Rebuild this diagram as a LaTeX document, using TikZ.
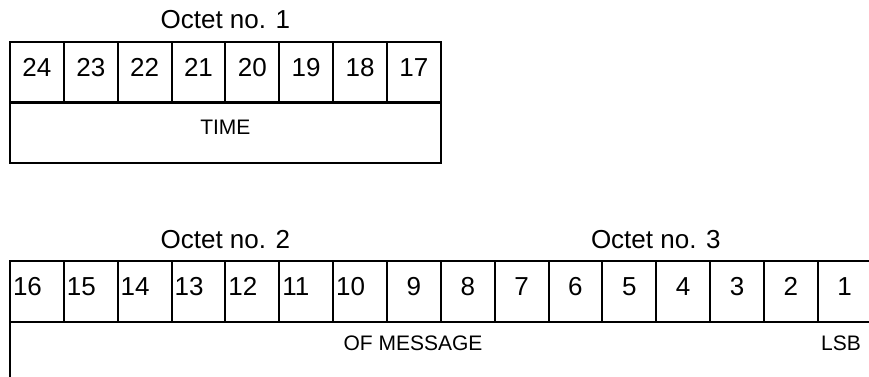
\documentclass[tikz,border=0pt]{standalone}
\usepackage{fontspec}
\setmainfont{Liberation Sans}
\usetikzlibrary{positioning}

\tikzset{
  bitcell/.style={draw, line width=2pt, minimum width=53.85pt, minimum height=61pt,
    inner xsep=3pt, text width=47.85pt, align=center, text depth=10pt,
    font=\fontsize{26}{26}\selectfont},
  leftcell/.style={bitcell, align=left},
  fieldrow/.style={draw, line width=2pt, minimum height=61pt},
  fieldtext/.style={inner sep=0pt, font=\fontsize{21}{21}\selectfont},
  octet/.style={inner sep=0pt, font=\fontsize{26}{26}\selectfont}
}

\begin{document}
\begin{tikzpicture}[x=1pt, y=-1pt]
    \clip (0,0) rectangle (869,376);

    % octet 1
    \node[octet] (oct1) at (225.4,20) {Octet no. 1};
    \foreach \i in {24,...,17}
        \node[bitcell] (b\i) at ({10+53.85*(24-\i+0.5)},72.5) {\i};
    \node[fieldrow, minimum width=430.8pt] (time) at (225.4,132.5) {};
    \node[fieldtext] (timelbl) at (225.4,127) {TIME};

    % octets 2 and 3
    \node[octet] (oct2) at (225.4,240) {Octet no. 2};
    \node[octet] (oct3) at (655.8,240) {Octet no. 3};
    \foreach \i in {16,...,10}
        \node[leftcell] (b\i) at ({10+53.85*(16-\i+0.5)},291.5) {\i};
    \foreach \i in {9,...,1}
        \node[bitcell] (b\i) at ({10+53.85*(16-\i+0.5)},291.5) {\i};
    \node[fieldrow, minimum width=861.6pt] (msg) at (440.8,352.5) {};
    \node[fieldtext] (msglbl) at (413,343) {OF MESSAGE};
    \node[fieldtext] (lsb) at (841,343) {LSB};
\end{tikzpicture}
\end{document}
